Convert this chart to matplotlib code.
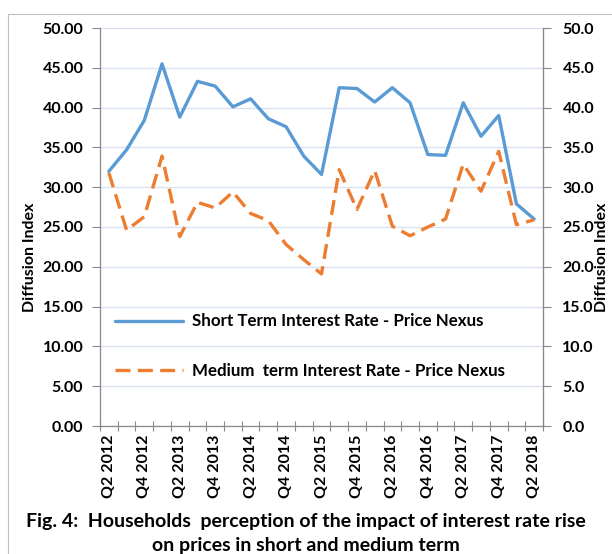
import matplotlib
matplotlib.use("Agg")
from matplotlib import pyplot as plt
from matplotlib.patches import Rectangle

quarters = []
for year in range(2012, 2019):
    for q in range(1, 5):
        quarters.append("Q%d %d" % (q, year))
quarters = quarters[1:26]  # Q2 2012 .. Q2 2018

short_term = [32.0, 34.7, 38.4, 45.5, 38.8, 43.3, 42.7, 40.1, 41.1, 38.6,
              37.6, 33.9, 31.6, 42.5, 42.4, 40.7, 42.5, 40.6, 34.1, 34.0,
              40.6, 36.4, 39.0, 27.9, 26.0]
medium_term = [31.8, 24.6, 26.3, 33.9, 23.8, 28.1, 27.4, 29.4, 26.7, 25.8,
               22.8, 20.9, 19.1, 32.2, 27.2, 32.1, 25.1, 23.9, 25.0, 26.0,
               32.9, 29.5, 34.5, 25.3, 25.9]

plt.rcParams['font.family'] = ['Lato', 'DejaVu Sans']

fig = plt.figure(figsize=(6.12, 5.54), dpi=100)
fig.patches.append(Rectangle((8 / 612, -0.1), 1.2, 1.1 - 14 / 554, transform=fig.transFigure,
                             fill=False, edgecolor='#BFBFBF', linewidth=0.8))

ax = fig.add_axes([100 / 612, 1 - 426 / 554, 443 / 612, 398 / 554])
x = list(range(len(quarters)))

blue, = ax.plot(x, short_term, color='#5B9BD5', linewidth=2.4,
                label='Short Term Interest Rate - Price Nexus', solid_capstyle='round')
orange, = ax.plot(x, medium_term, color='#ED7D31', linewidth=2.4, dashes=(4.5, 2.2),
                  label='Medium  term Interest Rate - Price Nexus')

ax.set_xlim(-0.5, len(quarters) - 0.5)
ax.set_ylim(0, 50)
ax.set_yticks(range(0, 51, 5))
ax.set_yticklabels(["%.2f" % v for v in range(0, 51, 5)], fontsize=11.5, fontweight='bold')
ax.yaxis.grid(True, color='#D9E2F1', linewidth=1.0)
ax.set_axisbelow(True)

ax.set_xticks(x[::2])
ax.set_xticklabels(quarters[::2], rotation=90, fontsize=11.5, fontweight='bold')
ax.set_xticks([i - 0.5 for i in range(len(quarters) + 1)], minor=True)
ax.tick_params(axis='x', which='major', length=0, pad=6)
ax.tick_params(axis='x', which='minor', direction='inout', length=7, color='#888888', width=0.8)
ax.tick_params(axis='y', direction='out', length=6, color='#888888', width=0.8, pad=6)

ax.spines['top'].set_visible(False)
for side in ['left', 'bottom', 'right']:
    ax.spines[side].set_color('#888888')
    ax.spines[side].set_linewidth(0.9)

ax.set_ylabel("Diffusion Index", fontsize=11.5, fontweight='bold')
ax.yaxis.set_label_coords(-0.142, 0.425)

ax2 = ax.twinx()
ax2.set_ylim(0, 50)
ax2.set_yticks(range(0, 51, 5))
ax2.set_yticklabels(["%.1f" % v for v in range(0, 51, 5)], fontsize=11.5, fontweight='bold')
ax2.tick_params(axis='y', direction='out', length=6, color='#888888', width=0.8, pad=8)
ax2.spines['top'].set_visible(False)
ax2.spines['right'].set_color('#888888')
ax2.spines['left'].set_visible(False)
ax2.spines['bottom'].set_visible(False)
ax2.set_ylabel("Diffusion Index", fontsize=11.5, fontweight='bold', rotation=90)
ax2.yaxis.set_label_coords(1.117, 0.425)

leg = ax.legend(handles=[blue, orange], loc='center left', bbox_to_anchor=(0.0, 0.2),
                frameon=False, prop={'weight': 'bold', 'size': 12.2},
                handlelength=4.0, handletextpad=0.5, labelspacing=2.0)

fig.text(0.5, 1 - 522 / 554, "Fig. 4:  Households  perception of the impact of interest rate rise",
         ha='center', va='center', fontsize=14, fontweight='bold')
fig.text(0.5, 1 - 545 / 554, "on prices in short and medium term",
         ha='center', va='center', fontsize=14, fontweight='bold')

fig.savefig("out.png", dpi=100)
